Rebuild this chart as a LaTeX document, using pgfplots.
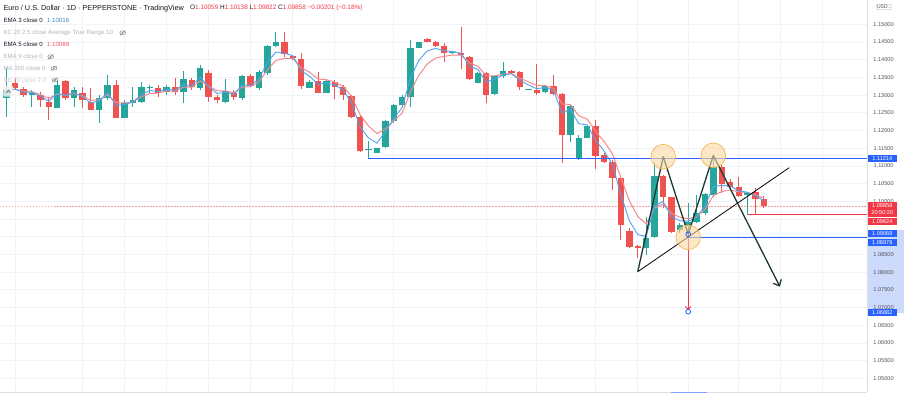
\documentclass[border=0pt]{standalone}
\usepackage{fontspec}
\setmainfont{Liberation Sans}
\usepackage{pgfplots}
\pgfplotsset{compat=1.18}
\usepackage{pgfplotstable}
\usetikzlibrary{arrows.meta}

\definecolor{up}{HTML}{26A69A}
\definecolor{dn}{HTML}{EF5350}
\definecolor{emab}{HTML}{4EA3F2}
\definecolor{emar}{HTML}{F38B8D}
\definecolor{tvblue}{HTML}{2962FF}
\definecolor{tvred}{HTML}{F23645}
\definecolor{gridc}{HTML}{F0F3FA}
\definecolor{txt}{HTML}{131722}
\definecolor{faint}{HTML}{B2B5BE}
\definecolor{axtxt}{HTML}{50535E}
\definecolor{zig}{HTML}{1E382E}
\definecolor{orfill}{HTML}{FAD7A0}
\definecolor{ordraw}{HTML}{F5B041}
\definecolor{rngfill}{HTML}{CCDAFB}

\newcommand\tf{\fontsize{7.3}{8}\selectfont}
\newcommand\of{\fontsize{6.4}{8}\selectfont}
\newcommand\lf{\fontsize{6.1}{8}\selectfont}
\newcommand\vf{\fontsize{6.2}{8}\selectfont}
\newcommand\eyeicon[2]{%
  \draw[faint!70!black, line width=0.45pt] (#1,#2) ellipse (2.9 and 1.9);
  \fill[faint!70!black] (#1,#2) circle (0.8);
  \draw[faint!70!black, line width=0.45pt] (#1-2.6,#2-2.4)--(#1+2.6,#2+2.4);}

% bullish candles: index, open, high, low, close
\pgfplotstableread{
i O H L C
0 1.12909 1.13757 1.12391 1.13145
3 1.13003 1.13145 1.12674 1.13069
6 1.12627 1.13427 1.12627 1.13286
8 1.12909 1.13239 1.12674 1.13145
11 1.12580 1.13003 1.12203 1.12909
12 1.12909 1.13568 1.12862 1.13286
14 1.12344 1.12862 1.12344 1.12768
15 1.12768 1.13239 1.12674 1.12862
16 1.12815 1.13380 1.12768 1.13239
17 1.13220 1.13286 1.13050 1.13239
19 1.13098 1.13286 1.13003 1.13239
21 1.13098 1.13681 1.12768 1.13455
23 1.13192 1.13851 1.13145 1.13757
26 1.12815 1.13446 1.12768 1.13116
28 1.12909 1.13568 1.12862 1.13549
30 1.13192 1.13710 1.13145 1.13662
31 1.13615 1.14416 1.13568 1.14388
32 1.14388 1.14774 1.14369 1.14510
36 1.13192 1.13427 1.13192 1.13380
38 1.13069 1.13446 1.13050 1.13399
43 1.11450 1.11713 1.11214 1.11478
44 1.11374 1.11510 1.11360 1.11497
45 1.11525 1.12297 1.11497 1.12278
46 1.12278 1.12749 1.12222 1.12721
47 1.12721 1.13003 1.12674 1.12956
48 1.12956 1.14557 1.12674 1.14322
49 1.14340 1.14510 1.14322 1.14491
53 1.14180 1.14230 1.14160 1.14209
56 1.13352 1.13662 1.13333 1.13634
58 1.13032 1.13568 1.13003 1.13540
59 1.13540 1.13945 1.13474 1.13691
62 1.13145 1.13180 1.13130 1.13164
64 1.13098 1.13286 1.13050 1.13258
67 1.11873 1.12740 1.11685 1.12702
68 1.11195 1.11873 1.11167 1.11779
69 1.11779 1.12156 1.11779 1.12127
76 1.08672 1.09566 1.08483 1.08954
77 1.08983 1.11073 1.08954 1.10715
80 1.09190 1.09378 1.09096 1.09331
81 1.09303 1.09943 1.09002 1.09425
82 1.09425 1.10178 1.09378 1.09661
83 1.09661 1.10225 1.09613 1.10197
84 1.10178 1.11308 1.10131 1.10960
88 1.10178 1.10273 1.09613 1.10225
}\upT

% bearish candles: index, open, high, low, close
\pgfplotstableread{
i O H L C
1 1.13333 1.13474 1.13145 1.13192
2 1.13164 1.13239 1.12956 1.13003
4 1.13003 1.13098 1.12674 1.12862
5 1.12815 1.12956 1.12297 1.12674
7 1.13399 1.13427 1.12862 1.12909
9 1.13050 1.13239 1.12627 1.12862
10 1.12815 1.13192 1.12580 1.12580
13 1.13286 1.13427 1.12344 1.12344
18 1.13192 1.13286 1.12956 1.13069
20 1.13239 1.13474 1.13003 1.13098
22 1.13427 1.13474 1.13145 1.13220
24 1.13634 1.13710 1.12815 1.12956
25 1.12937 1.13003 1.12768 1.12862
27 1.13069 1.13145 1.12862 1.12956
29 1.13540 1.13597 1.13220 1.13258
33 1.14510 1.14792 1.14086 1.14152
34 1.14105 1.14133 1.13992 1.14039
35 1.14011 1.14180 1.13164 1.13258
37 1.13399 1.13662 1.13050 1.13069
39 1.13380 1.13427 1.12881 1.13220
40 1.13220 1.13286 1.12862 1.13003
41 1.12975 1.13003 1.12344 1.12391
42 1.12391 1.12439 1.11403 1.11431
50 1.14585 1.14623 1.14491 1.14510
51 1.14510 1.14538 1.14369 1.14388
52 1.14397 1.14463 1.13945 1.14180
54 1.14199 1.14934 1.13728 1.14133
55 1.14086 1.14105 1.13427 1.13455
57 1.13615 1.13662 1.12787 1.13003
60 1.13691 1.13710 1.13615 1.13634
61 1.13662 1.13681 1.13145 1.13220
63 1.13145 1.13879 1.13003 1.13069
65 1.13258 1.13568 1.13003 1.13032
66 1.13022 1.13050 1.11073 1.11873
70 1.12127 1.12297 1.10903 1.11280
71 1.11308 1.11355 1.11073 1.11120
72 1.11120 1.11167 1.10320 1.10649
73 1.10649 1.10696 1.08907 1.09331
74 1.09171 1.09237 1.08672 1.08719
75 1.08738 1.08766 1.08389 1.08672
78 1.10715 1.10743 1.09802 1.10131
79 1.10112 1.10131 1.09096 1.09143
85 1.10960 1.11026 1.10225 1.10489
86 1.10555 1.10621 1.10367 1.10414
87 1.10395 1.10696 1.10131 1.10150
89 1.10273 1.10367 1.09613 1.10056
90 1.10059 1.10138 1.09822 1.09858
}\dnT

% EMA 3 and EMA 5 of the close
\pgfplotstableread{
i E3 E5
0 1.13145 1.13145
1 1.13169 1.13161
2 1.13086 1.13108
3 1.13078 1.13095
4 1.12970 1.13017
5 1.12822 1.12903
6 1.13054 1.13031
7 1.12982 1.12990
8 1.13064 1.13042
9 1.12963 1.12982
10 1.12772 1.12848
11 1.12841 1.12868
12 1.13064 1.13007
13 1.12704 1.12786
14 1.12736 1.12780
15 1.12799 1.12807
16 1.13019 1.12951
17 1.13129 1.13047
18 1.13099 1.13054
19 1.13169 1.13116
20 1.13134 1.13110
21 1.13295 1.13225
22 1.13258 1.13223
23 1.13508 1.13401
24 1.13232 1.13253
25 1.13047 1.13123
26 1.13082 1.13121
27 1.13019 1.13066
28 1.13284 1.13227
29 1.13271 1.13237
30 1.13467 1.13379
31 1.13928 1.13715
32 1.14219 1.13980
33 1.14186 1.14037
34 1.14113 1.14038
35 1.13686 1.13778
36 1.13533 1.13645
37 1.13301 1.13453
38 1.13350 1.13435
39 1.13285 1.13363
40 1.13144 1.13243
41 1.12768 1.12959
42 1.12100 1.12450
43 1.11789 1.12126
44 1.11643 1.11916
45 1.11961 1.12037
46 1.12341 1.12265
47 1.12649 1.12495
48 1.13486 1.13104
49 1.13989 1.13566
50 1.14250 1.13881
51 1.14319 1.14050
52 1.14250 1.14093
53 1.14230 1.14132
54 1.14182 1.14132
55 1.13819 1.13906
56 1.13727 1.13815
57 1.13365 1.13544
58 1.13453 1.13543
59 1.13572 1.13592
60 1.13603 1.13606
61 1.13412 1.13477
62 1.13288 1.13373
63 1.13179 1.13272
64 1.13219 1.13267
65 1.13126 1.13189
66 1.12500 1.12750
67 1.12601 1.12734
68 1.12190 1.12416
69 1.12159 1.12320
70 1.11720 1.11973
71 1.11420 1.11689
72 1.11035 1.11342
73 1.10183 1.10672
74 1.09451 1.10021
75 1.09061 1.09571
76 1.09007 1.09365
77 1.09861 1.09815
78 1.09996 1.09920
79 1.09569 1.09661
80 1.09450 1.09551
81 1.09437 1.09509
82 1.09549 1.09560
83 1.09873 1.09772
84 1.10417 1.10168
85 1.10453 1.10275
86 1.10434 1.10321
87 1.10292 1.10264
88 1.10259 1.10251
89 1.10158 1.10186
90 1.10016 1.10088
}\emaT

\begin{document}
\begin{tikzpicture}[x=1pt,y=1pt]
\fill[white] (0,0) rectangle (904,394);
% price range highlight on the price scale (behind the tick labels)
\fill[rngfill] (867.6,81) rectangle (904,164);
\begin{axis}[
  at={(0pt,2pt)}, anchor=south west,
  width=867pt, height=392pt, scale only axis,
  xmin=-0.796, xmax=102.25,
  ymin=1.04613, ymax=1.15686,
  axis x line*=bottom, axis y line*=right,
  axis line style={draw=gray!25, line width=0.8pt},
  xtick={1,9,14,19,24,29,34,39,46,57,63,70,75,81,87,92,97},
  xticklabels={},
  ytick={1.05,1.055,1.06,1.065,1.07,1.075,1.08,1.085,1.09,1.095,1.10,1.105,1.11,1.115,1.12,1.125,1.13,1.135,1.14,1.145,1.15},
  yticklabels={1.05000,1.05500,1.06000,1.06500,1.07000,1.07500,1.08000,1.08500,,,1.10000,1.10500,1.11000,1.11500,1.12000,1.12500,1.13000,1.13500,1.14000,1.14500,1.15000},
  scaled y ticks=false,
  major tick length=0pt,
  xmajorgrids, ymajorgrids,
  major grid style={draw=gridc, line width=0.7pt},
  yticklabel style={font=\fontsize{5.6}{6}\selectfont, text=axtxt, anchor=center, xshift=16.5pt},
  clip=false,
]
% last price line
\addplot[draw={rgb,255:red,245;green,160;blue,160}, line width=0.6pt, dash pattern=on 1.5pt off 1.5pt, forget plot]
  coordinates {(-0.796,1.09858) (102.25,1.09858)};

% wicks
\addplot[draw=none, mark=none, forget plot, error bars/.cd, y dir=plus, y explicit, error mark=none,
  error bar style={draw=up, line width=0.9pt}]
  table[x=i, y=L, y error expr=\thisrow{H}-\thisrow{L}] {\upT};
\addplot[draw=none, mark=none, forget plot, error bars/.cd, y dir=plus, y explicit, error mark=none,
  error bar style={draw=dn, line width=0.9pt}]
  table[x=i, y=L, y error expr=\thisrow{H}-\thisrow{L}] {\dnT};
% bodies
\addplot[draw=none, mark=none, forget plot, error bars/.cd, y dir=plus, y explicit, error mark=none,
  error bar style={draw=up, line width=6.4pt}]
  table[x=i, y=O, y error expr=\thisrow{C}-\thisrow{O}] {\upT};
\addplot[draw=none, mark=none, forget plot, error bars/.cd, y dir=plus, y explicit, error mark=none,
  error bar style={draw=dn, line width=6.4pt}]
  table[x=i, y=C, y error expr=\thisrow{O}-\thisrow{C}] {\dnT};

% EMAs
\addplot[emar, line width=1pt, mark=none] table[x=i, y=E5] {\emaT};
\addplot[emab, line width=0.9pt, mark=none] table[x=i, y=E3] {\emaT};

% horizontal levels
\addplot[tvblue, line width=1.1pt, mark=none] coordinates {(43,1.11214) (102.25,1.11214)};
\addplot[tvred, line width=1.0pt, mark=none] coordinates {(88.1,1.09624) (102.25,1.09624)};
\addplot[tvblue, line width=1.0pt, mark=none] coordinates {(81,1.08978) (102.25,1.08978)};

% highlight circles
\addplot[only marks, mark=*, mark size=12.3pt, mark options={fill=orfill, fill opacity=0.6, draw=ordraw, line width=0.6pt}]
  coordinates {(78.04,1.11260) (83.98,1.11299) (81.0,1.08983)};

% price range tool
\addplot[tvred, line width=0.9pt, mark=none, -{Straight Barb[length=2.5pt,width=6pt]}]
  coordinates {(81.0,1.09069) (81.0,1.06940)};
\addplot[only marks, mark=o, mark size=2.4pt, mark options={draw=tvblue, fill=white, line width=0.8pt}]
  coordinates {(81.0,1.09069) (81.0,1.06882)};

% trend line
\addplot[black, line width=0.8pt, mark=none] coordinates {(75.0,1.08011) (93.0,1.10949)};
% zigzag
\addplot[zig, line width=1.3pt, mark=none, line join=round, -{Straight Barb[length=5pt,width=9pt]}]
  coordinates {(75.0,1.08011) (78.04,1.11260) (81.0,1.09069) (83.98,1.11299) (91.9,1.07588)};
\end{axis}

% price scale labels
\begin{scope}[every node/.style={inner sep=0pt, font=\fontsize{5.6}{6}\selectfont, text=white, minimum width=29pt, minimum height=7.2pt, anchor=west}]
\node[fill=tvblue] at (867.6,235.7) {1.11214};
\node[fill=tvred, minimum height=15pt, align=center] at (867.6,184.8) {1.09858\\[0.6pt]20:50:20};
\node[fill=tvred] at (867.6,172.6) {1.09624};
\node[fill=tvblue] at (867.6,160.7) {1.09069};
\node[fill=tvblue] at (867.6,151.7) {1.08978};
\node[fill=tvblue] at (867.6,81.7) {1.06882};
\end{scope}
\node[draw=gray!35, rounded corners=1pt, inner sep=0.8pt, font=\fontsize{5}{5}\selectfont, text=axtxt] at (884,387) {USD\,\raisebox{0.5pt}{\tikz\fill[axtxt] (0,0)--(2.4pt,0)--(1.2pt,-1.4pt)--cycle;}};
\draw[tvblue!60, line width=1pt] (671,1.6)--(707,1.6);

% legend / header
\begin{scope}[every node/.style={anchor=west, inner sep=0pt}]
\node[text=txt, font=\tf] at (3.3,385.7) {Euro / U.S. Dollar · 1D · PEPPERSTONE · TradingView};
\node[font=\of] at (190,385.7) {\color{txt}O\color{tvred}1.10059 \color{txt}H\color{tvred}1.10138 \color{txt}L\color{tvred}1.09822 \color{txt}C\color{tvred}1.09858 −0.00201 (−0.18\%)};
\node[text=txt, font=\lf] at (3.3,373.3) {EMA 3 close 0};
\node[text=emab!85!black, font=\vf] at (46.7,373.3) {1.10016};
\node[text=faint, font=\lf] at (3.3,361.3) {KC 20 2.5 close Average True Range 10};
\node[text=txt, font=\lf] at (3.3,349.7) {EMA 5 close 0};
\node[text=tvred!80, font=\vf] at (46.7,349.7) {1.10088};
\node[text=faint, font=\lf] at (3.3,337.3) {EMA 9 close 0};
\node[text=faint, font=\lf] at (3.3,325.7) {MA 200 close 0};
\node[text=faint!60, font=\lf] at (3.3,314.0) {BB 20 close 2 0};
\end{scope}
\eyeicon{122.7}{361.3}
\eyeicon{50.7}{337.3}
\eyeicon{54}{325.7}
\eyeicon{55}{314.0}
% collapse button
\fill[gray!12, opacity=0.85, rounded corners=1pt] (3.3,297.3) rectangle (13.3,308);
\draw[axtxt, line width=0.6pt] (6.3,301.3)--(8.3,303.6)--(10.3,301.3);

\pgfresetboundingbox
\useasboundingbox (0,0) rectangle (904,394);
\end{tikzpicture}
\end{document}
